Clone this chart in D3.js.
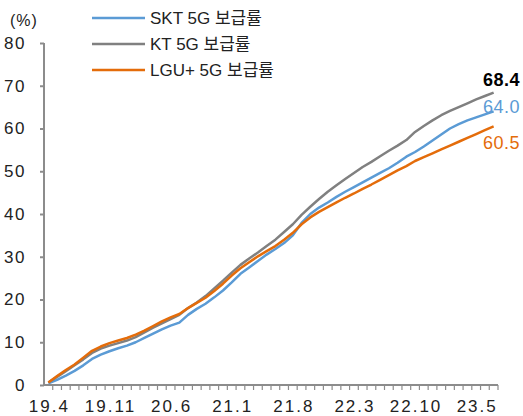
<!DOCTYPE html>
<html lang="ko">
<head>
    <meta charset="UTF-8">
    <title>5G 보급률</title>
    <script src="https://d3js.org/d3.v7.min.js"></script>
    <style>
        body {
            margin: 0;
            padding: 0;
            background: #ffffff;
        }
        svg text {
            font-family: 'Liberation Sans', Arial, 'Noto Sans CJK KR', sans-serif;
            fill: #222;
        }
    </style>
</head>
<body>
    <svg id="chart" width="523" height="416"></svg>

    <script>
        // months 19.4 .. 23.7
        const months = [];
        for (let y = 2019, m = 4; !(y === 2023 && m === 8); ) {
            months.push(String(y % 100) + '.' + m);
            m++;
            if (m > 12) { m = 1; y++; }
        }
        const tickLabels = ['19.4', '19.11', '20.6', '21.1', '21.8', '22.3', '22.10', '23.5'];
        const yTicks = [0, 10, 20, 30, 40, 50, 60, 70, 80];

        const skt = [0.4, 1.2, 2.2, 3.3, 4.6, 6.1, 7.1, 7.9, 8.6, 9.2, 10.0, 11.0, 12.0, 13.0, 13.9, 14.6,
            16.4, 17.8, 19.0, 20.5, 22.1, 24.0, 26.0, 27.5, 29.0, 30.5, 31.8, 33.2, 35.0, 37.9, 40.0, 41.5,
            42.7, 44.0, 45.2, 46.3, 47.4, 48.5, 49.6, 50.7, 52.0, 53.4, 54.5, 55.8, 57.2, 58.6, 60.0, 61.0,
            61.9, 62.6, 63.3, 64.0];
        const kt = [0.6, 1.9, 3.2, 4.6, 6.0, 7.5, 8.5, 9.2, 9.8, 10.4, 11.2, 12.3, 13.4, 14.4, 15.4, 16.4,
            18.0, 19.3, 20.8, 22.6, 24.4, 26.3, 28.1, 29.6, 31.0, 32.5, 34.0, 35.8, 37.6, 39.8, 41.7, 43.5,
            45.2, 46.7, 48.2, 49.6, 51.0, 52.2, 53.5, 54.8, 56.0, 57.3, 59.2, 60.6, 61.9, 63.1, 64.1, 65.0,
            65.9, 66.8, 67.6, 68.4];
        const lgu = [0.6, 2.1, 3.5, 4.8, 6.4, 8.0, 9.0, 9.8, 10.4, 11.0, 11.8, 12.7, 13.8, 14.9, 15.8, 16.6,
            18.0, 19.2, 20.4, 22.0, 23.7, 25.6, 27.3, 28.7, 30.1, 31.3, 32.5, 34.0, 35.6, 37.6, 39.2, 40.5,
            41.6, 42.7, 43.8, 44.8, 45.9, 46.9, 48.0, 49.1, 50.2, 51.2, 52.4, 53.3, 54.2, 55.1, 56.0, 56.9,
            57.8, 58.7, 59.6, 60.5];

        const seriesNames = ['SKT 5G 보급률', 'KT 5G 보급률', 'LGU+ 5G 보급률'];
        const seriesColors = ['#5B9BD5', '#808080', '#E46C0A'];
        const endLabelColors = ['#5B9BD5', '#000000', '#E46C0A'];
        const series = [skt, kt, lgu];

        const svg = d3.select('#chart');
        const margin = { left: 44, right: 498, top: 43, bottom: 385 };

        const x = d3.scaleBand().domain(months).range([margin.left, margin.right]);
        const y = d3.scaleLinear().domain([0, 80]).range([margin.bottom, margin.top]);

        // y axis
        const yAxis = svg.append('g')
            .attr('transform', `translate(${margin.left},0)`)
            .call(d3.axisLeft(y).tickValues(yTicks).tickSize(4).tickPadding(14));
        yAxis.select('.domain').attr('stroke', '#8c8c8c').attr('stroke-width', 2).attr('d', `M0,${margin.top}V${margin.bottom}`);
        yAxis.selectAll('.tick line').attr('stroke', '#8c8c8c').attr('stroke-width', 2);
        yAxis.selectAll('.tick text')
            .attr('font-size', 17)
            .attr('letter-spacing', 1.5)
            .attr('fill', '#222')
            .attr('text-anchor', 'end');

        // x axis: a small tick at each month boundary
        const xg = svg.append('g');
        xg.append('line')
            .attr('x1', margin.left - 1).attr('x2', margin.right)
            .attr('y1', margin.bottom).attr('y2', margin.bottom)
            .attr('stroke', '#8c8c8c').attr('stroke-width', 2);
        xg.selectAll('line.mt')
            .data(months.slice(1).concat(['end']))
            .join('line')
            .attr('class', 'mt')
            .attr('x1', (d, i) => i === months.length - 1 ? margin.right : x(d))
            .attr('x2', (d, i) => i === months.length - 1 ? margin.right : x(d))
            .attr('y1', margin.bottom)
            .attr('y2', margin.bottom + 5)
            .attr('stroke', '#8c8c8c')
            .attr('stroke-width', 1.2);
        xg.selectAll('text')
            .data(tickLabels)
            .join('text')
            .attr('x', d => x(d) + x.bandwidth() / 2 + 1)
            .attr('y', 412)
            .attr('text-anchor', 'middle')
            .attr('font-size', 17)
            .attr('letter-spacing', 2)
            .text(d => d);

        // unit
        svg.append('text').attr('x', 10).attr('y', 26).attr('font-size', 16).attr('letter-spacing', 1).text('(%)');

        // lines
        const line = d3.line()
            .x((d, i) => x(months[i]) + x.bandwidth() / 2)
            .y(d => y(d));

        svg.append('g')
            .selectAll('path')
            .data(series)
            .join('path')
            .attr('d', line)
            .attr('fill', 'none')
            .attr('stroke', (d, i) => seriesColors[i])
            .attr('stroke-width', 2.5)
            .attr('stroke-linejoin', 'round');

        // end labels
        const endY = [113, 86, 149];
        svg.append('g')
            .selectAll('text')
            .data(series)
            .join('text')
            .attr('x', 520)
            .attr('y', (d, i) => endY[i])
            .attr('text-anchor', 'end')
            .attr('font-size', 18)
            .attr('letter-spacing', 0.5)
            .attr('font-weight', (d, i) => i === 1 ? 'bold' : 'normal')
            .style('fill', (d, i) => endLabelColors[i])
            .text(d => d[d.length - 1].toFixed(1));

        // legend
        const legend = svg.append('g')
            .selectAll('g')
            .data(seriesNames)
            .join('g')
            .attr('transform', (d, i) => `translate(92,${18 + i * 26})`);
        legend.append('line')
            .attr('x1', 0).attr('x2', 53)
            .attr('stroke', (d, i) => seriesColors[i])
            .attr('stroke-width', 2.5);
        legend.append('text')
            .attr('x', 58)
            .attr('y', 6)
            .attr('font-size', 17)
            .text(d => d);
    </script>
</body>
</html>
